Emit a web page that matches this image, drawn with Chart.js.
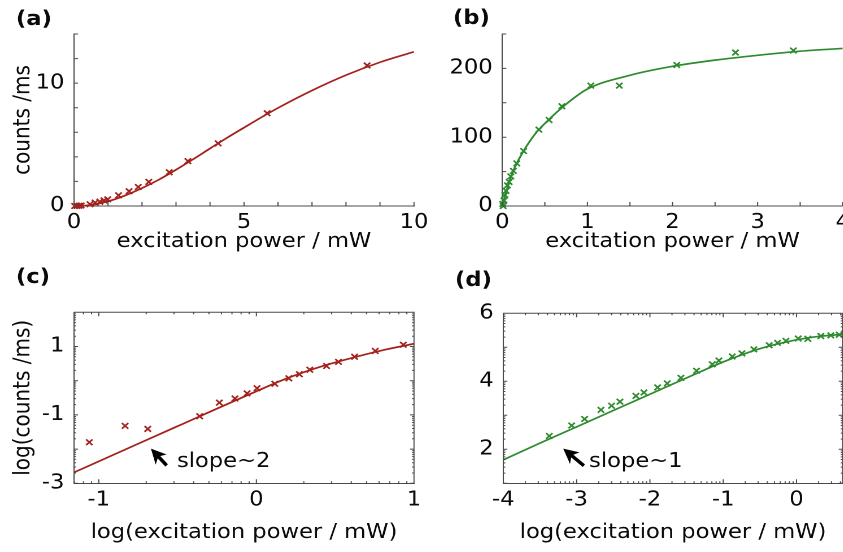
<!DOCTYPE html>
<html><head><meta charset="utf-8">
<script src="https://cdn.jsdelivr.net/npm/chart.js@4/dist/chart.umd.min.js"></script>
<style>
html,body{margin:0;padding:0;background:#fff;overflow:hidden;width:843px;height:552px;position:relative;}
.panel{position:absolute;transform-origin:0 0;}
</style></head><body>
<div id="pa" class="panel"><canvas id="ca"></canvas></div>
<div id="pb" class="panel"><canvas id="cb"></canvas></div>
<div id="pc" class="panel"><canvas id="cc"></canvas></div>
<div id="pd" class="panel"><canvas id="cd"></canvas></div>
<script>
// ---------- data ----------
// (a) counts vs excitation power (linear)
const aPower  = [0.02, 0.09, 0.15, 0.21, 0.47, 0.62, 0.76, 0.88, 0.99, 1.31, 1.62, 1.89, 2.20, 2.80, 3.35, 4.24, 5.68, 8.62];
const aCounts = [0.00, 0.01, 0.02, 0.04, 0.14, 0.27, 0.35, 0.46, 0.54, 0.87, 1.20, 1.55, 1.96, 2.75, 3.65, 5.10, 7.55, 11.44];
const aFitPower  = [0, 0.5, 1, 1.5, 2, 2.5, 3, 3.5, 4, 4.5, 5, 5.5, 6, 7, 8, 9, 10];
const aFitCounts = [0, 0.08, 0.38, 0.85, 1.45, 2.15, 2.95, 3.8, 4.68, 5.55, 6.38, 7.2, 7.98, 9.4, 10.65, 11.7, 12.55];
// (b) counts vs excitation power (linear)
const bPower  = [0.005, 0.01, 0.02, 0.03, 0.044, 0.06, 0.08, 0.10, 0.13, 0.17, 0.25, 0.43, 0.55, 0.70, 1.04, 1.375, 2.05, 2.74, 3.42];
const bCounts = [3, 0, 8, 16, 22, 30, 35, 43, 51, 62, 80, 111, 125, 145, 175, 175, 205, 223, 226];
const bFitPower  = [0, 0.02, 0.05, 0.1, 0.15, 0.25, 0.4, 0.5, 0.75, 1, 1.5, 2, 2.5, 3, 3.5, 4];
const bFitCounts = [0, 9, 22, 42, 57, 80, 107, 120, 148, 170, 190, 203, 212, 219, 225, 229];
// (c) log-log of (a)
const cLogPower  = [-1.06, -0.833, -0.689, -0.36, -0.235, -0.136, -0.059, 0.004, 0.117, 0.206, 0.273, 0.339, 0.445, 0.521, 0.623, 0.754, 0.932];
const cLogCounts = [-1.80, -1.32, -1.41, -1.04, -0.64, -0.52, -0.37, -0.22, -0.09, 0.07, 0.19, 0.32, 0.43, 0.55, 0.70, 0.87, 1.05];
const cFitLogPower  = [-1.157, -1, -0.5, 0, 0.2, 0.4, 0.6, 0.8, 1];
const cFitLogCounts = [-2.68, -2.36, -1.33, -0.31, 0.08, 0.40, 0.66, 0.89, 1.08];
// (d) log-log of (b)
const dLogPower  = [-3.373, -3.068, -2.891, -2.668, -2.523, -2.409, -2.191, -2.082, -1.895, -1.764, -1.577, -1.364, -1.15, -1.059, -0.877, -0.745, -0.582, -0.373, -0.259, -0.145, 0.023, 0.155, 0.332, 0.468, 0.582];
const dLogCounts = [2.39, 2.70, 2.89, 3.16, 3.28, 3.40, 3.57, 3.67, 3.82, 3.94, 4.10, 4.31, 4.50, 4.61, 4.73, 4.82, 4.94, 5.06, 5.13, 5.19, 5.26, 5.25, 5.33, 5.35, 5.37];
const dFitLogPower  = [-4, -3.5, -3, -2.5, -2, -1.5, -1, -0.5, 0, 0.3, 0.63];
const dFitLogCounts = [1.69, 2.18, 2.66, 3.14, 3.62, 4.1, 4.57, 4.96, 5.22, 5.32, 5.38];
// tick labels
const aXLabels = [0, 5, 10],  aYLabels = [0, 10];
const bXLabels = [0, 1, 2, 3, 4], bYLabels = [0, 100, 200];
const cXLabels = [-1, 0, 1], cYLabels = [-3, -1, 1];
const dXLabels = [-4, -3, -2, -1, 0], dYLabels = [2, 4, 6];

// ---------- style ----------
const S = 1.13;               // horizontal stretch of the reference
const FONT = 'DejaVu Sans';
const RED = '#a3221d', GREEN = '#2e8a2e', AXIS = '#4a4a4a', TEXT = '#0a0a0a';

const pts = (xs, ys) => xs.map((x, i) => ({x, y: ys[i]}));

function ticksPlugin(o) {
  return {
    id: 'inwardTicks',
    afterDatasetsDraw(chart) {
      const {ctx, chartArea: a, scales: {x, y}} = chart;
      ctx.save();
      ctx.strokeStyle = AXIS; ctx.lineWidth = 1;
      ctx.beginPath();
      if (o.box) { ctx.moveTo(a.left, a.top); ctx.lineTo(a.right, a.top); ctx.lineTo(a.right, a.bottom); }
      const xt = (v, len) => {
        const p = x.getPixelForValue(v);
        if (p < a.left - 0.5 || p > a.right + 0.5) return;
        ctx.moveTo(p, a.bottom); ctx.lineTo(p, a.bottom - len);
        if (o.box) { ctx.moveTo(p, a.top); ctx.lineTo(p, a.top + len); }
      };
      const yt = (v, len) => {
        const p = y.getPixelForValue(v);
        if (p < a.top - 0.5 || p > a.bottom + 0.5) return;
        const l = len / S;
        ctx.moveTo(a.left, p); ctx.lineTo(a.left + l, p);
        if (o.box) { ctx.moveTo(a.right, p); ctx.lineTo(a.right - l, p); }
      };
      x.ticks.forEach(t => xt(t.value, o.major));
      y.ticks.forEach(t => yt(t.value, o.major));
      if (o.logMinor) {
        for (let n = Math.floor(x.min) - 1; n < x.max; n++) for (let k = 2; k < 10; k++) xt(n + Math.log10(k), o.minor);
        for (let n = Math.floor(y.min) - 1; n < y.max; n++) for (let k = 2; k < 10; k++) yt(n + Math.log10(k), o.minor);
      }
      ctx.stroke();
      ctx.restore();
    }
  };
}

function labelPlugin(geo, label, notes) {
  return {
    id: 'labels',
    afterDraw(chart) {
      const {ctx, scales: {x, y}} = chart;
      ctx.save();
      ctx.fillStyle = TEXT;
      ctx.font = 'bold 20px "' + FONT + '"';
      ctx.textBaseline = 'middle'; ctx.textAlign = 'left';
      ctx.fillText(label.text, (label.x - geo.cx) / S, label.y - geo.cy);
      if (notes) {
        notes.forEach(n => {
          const tx = x.getPixelForValue(n.tip[0]) * S, ty = y.getPixelForValue(n.tip[1]);
          const qx = x.getPixelForValue(n.tail[0]) * S, qy = y.getPixelForValue(n.tail[1]);
          ctx.save();
          ctx.scale(1 / S, 1);
          const dx = tx - qx, dy = ty - qy, L = Math.hypot(dx, dy);
          const ux = dx / L, uy = dy / L, nx = -uy, ny = ux;
          const hl = 15, hw = 7.5;
          const bx = tx - ux * hl, by = ty - uy * hl;
          ctx.fillStyle = '#000'; ctx.strokeStyle = '#000';
          ctx.beginPath();
          ctx.moveTo(tx, ty);
          ctx.lineTo(bx + nx * hw, by + ny * hw);
          ctx.lineTo(tx - ux * hl * 0.72, ty - uy * hl * 0.72);
          ctx.lineTo(bx - nx * hw, by - ny * hw);
          ctx.closePath(); ctx.fill();
          ctx.lineWidth = 3.5;
          ctx.beginPath(); ctx.moveTo(tx - ux * 7, ty - uy * 7); ctx.lineTo(qx + ux, qy + uy); ctx.stroke();
          ctx.restore();
          ctx.fillStyle = TEXT;
          ctx.font = '20px "' + FONT + '"';
          ctx.textBaseline = 'middle'; ctx.textAlign = 'left';
          ctx.fillText(n.text, x.getPixelForValue(n.at[0]), y.getPixelForValue(n.at[1]));
        });
      }
      ctx.restore();
    }
  };
}

function makePanel(id, geo, c) {
  const div = document.getElementById('p' + id);
  const cv = document.getElementById('c' + id);
  div.style.left = geo.cx + 'px';
  div.style.top = geo.cy + 'px';
  div.style.transform = 'scaleX(' + S + ')';
  const wU = Math.round(geo.cw / S);
  cv.width = wU; cv.height = geo.ch;
  const font = {family: FONT, size: 20};
  new Chart(cv, {
    type: 'scatter',
    data: {
      datasets: [
        {data: pts(c.fitX, c.fitY), showLine: true, borderColor: c.color, borderWidth: 1.7,
         pointRadius: 0, cubicInterpolationMode: 'monotone', fill: false},
        {data: pts(c.dataX, c.dataY), showLine: false, pointStyle: 'crossRot', pointRadius: 4,
         borderColor: c.color, backgroundColor: c.color, pointBorderWidth: 1.6, clip: false}
      ]
    },
    options: {
      responsive: false, animation: false, devicePixelRatio: 2,
      layout: {autoPadding: false, padding: {left: 0, top: geo.T - geo.cy, right: wU - (geo.R - geo.cx) / S, bottom: 0}},
      plugins: {legend: {display: false}, tooltip: {enabled: false}, title: {display: false}},
      scales: {
        x: {
          type: 'linear', position: 'bottom', min: c.xMin, max: c.xMax,
          grid: {display: false, drawTicks: false},
          border: {display: true, color: AXIS, width: 1},
          ticks: {stepSize: c.xStep, includeBounds: false, autoSkip: false, maxRotation: 0, padding: 5,
                  font, color: TEXT, callback: v => c.xLabels.includes(v) ? String(v) : ''},
          title: {display: true, text: c.xTitle, font, color: TEXT, padding: {top: 0, bottom: c.xTitlePad}},
          afterFit(s) { s.height = geo.cy + geo.ch - geo.B; s.paddingLeft = 0; s.paddingRight = 0; }
        },
        y: {
          type: 'linear', position: 'left', min: c.yMin, max: c.yMax,
          grid: {display: false, drawTicks: false},
          border: {display: true, color: AXIS, width: 1},
          ticks: {stepSize: c.yStep, includeBounds: false, autoSkip: false, padding: 8.5,
                  font, color: TEXT, callback: v => c.yLabels.includes(v) ? String(v) : ''},
          title: {display: !!c.yTitle, text: c.yTitle || '', font, color: TEXT, padding: {top: 9, bottom: 0}},
          afterFit(s) { s.width = (geo.L - geo.cx) / S; s.paddingTop = 0; s.paddingBottom = 0; }
        }
      }
    },
    plugins: [ticksPlugin(c.tickOpts), labelPlugin(geo, c.label, c.notes)]
  });
}

makePanel('a', {cx: 0, cy: 0, cw: 440, ch: 262, L: 74, R: 414, T: 34, B: 206}, {
  color: RED, dataX: aPower, dataY: aCounts, fitX: aFitPower, fitY: aFitCounts,
  xMin: 0, xMax: 10, xStep: 1, xLabels: aXLabels, yMin: 0, yMax: 14, yStep: 2, yLabels: aYLabels,
  xTitle: 'excitation power / mW', xTitlePad: 8, yTitle: 'counts /ms',
  tickOpts: {box: false, logMinor: false, major: 4, minor: 2},
  label: {text: '(a)', x: 16, y: 20}
});
makePanel('b', {cx: 440, cy: 0, cw: 430, ch: 262, L: 502.3, R: 842.7, T: 34, B: 206}, {
  color: GREEN, dataX: bPower, dataY: bCounts, fitX: bFitPower, fitY: bFitCounts,
  xMin: 0, xMax: 4, xStep: 0.5, xLabels: bXLabels, yMin: 0, yMax: 250, yStep: 50, yLabels: bYLabels,
  xTitle: 'excitation power / mW', xTitlePad: 8, yTitle: null,
  tickOpts: {box: false, logMinor: false, major: 4, minor: 2},
  label: {text: '(b)', x: 453, y: 19}
});
makePanel('c', {cx: 0, cy: 262, cw: 440, ch: 290, L: 74, R: 414, T: 312.3, B: 483.3}, {
  color: RED, dataX: cLogPower, dataY: cLogCounts, fitX: cFitLogPower, fitY: cFitLogCounts,
  xMin: -1.157, xMax: 1, xStep: 1, xLabels: cXLabels, yMin: -3, yMax: 2, yStep: 1, yLabels: cYLabels,
  xTitle: 'log(excitation power / mW)', xTitlePad: 7, yTitle: 'log(counts /ms)',
  tickOpts: {box: true, logMinor: true, major: 4, minor: 2},
  label: {text: '(c)', x: 16, y: 278},
  notes: [{tip: [-0.669, -1.985], tail: [-0.565, -2.50], text: 'slope~2', at: [-0.504, -2.37]}]
});
makePanel('d', {cx: 440, cy: 262, cw: 430, ch: 290, L: 503.3, R: 842.7, T: 313.3, B: 483.3}, {
  color: GREEN, dataX: dLogPower, dataY: dLogCounts, fitX: dFitLogPower, fitY: dFitLogCounts,
  xMin: -4, xMax: 0.63, xStep: 1, xLabels: dXLabels, yMin: 1, yMax: 6, yStep: 1, yLabels: dYLabels,
  xTitle: 'log(excitation power / mW)', xTitlePad: 7, yTitle: null,
  tickOpts: {box: true, logMinor: true, major: 4, minor: 2},
  label: {text: '(d)', x: 455, y: 281},
  notes: [{tip: [-3.183, 2.02], tail: [-2.89, 1.50], text: 'slope~1', at: [-2.83, 1.63]}]
});
</script>
</body></html>
